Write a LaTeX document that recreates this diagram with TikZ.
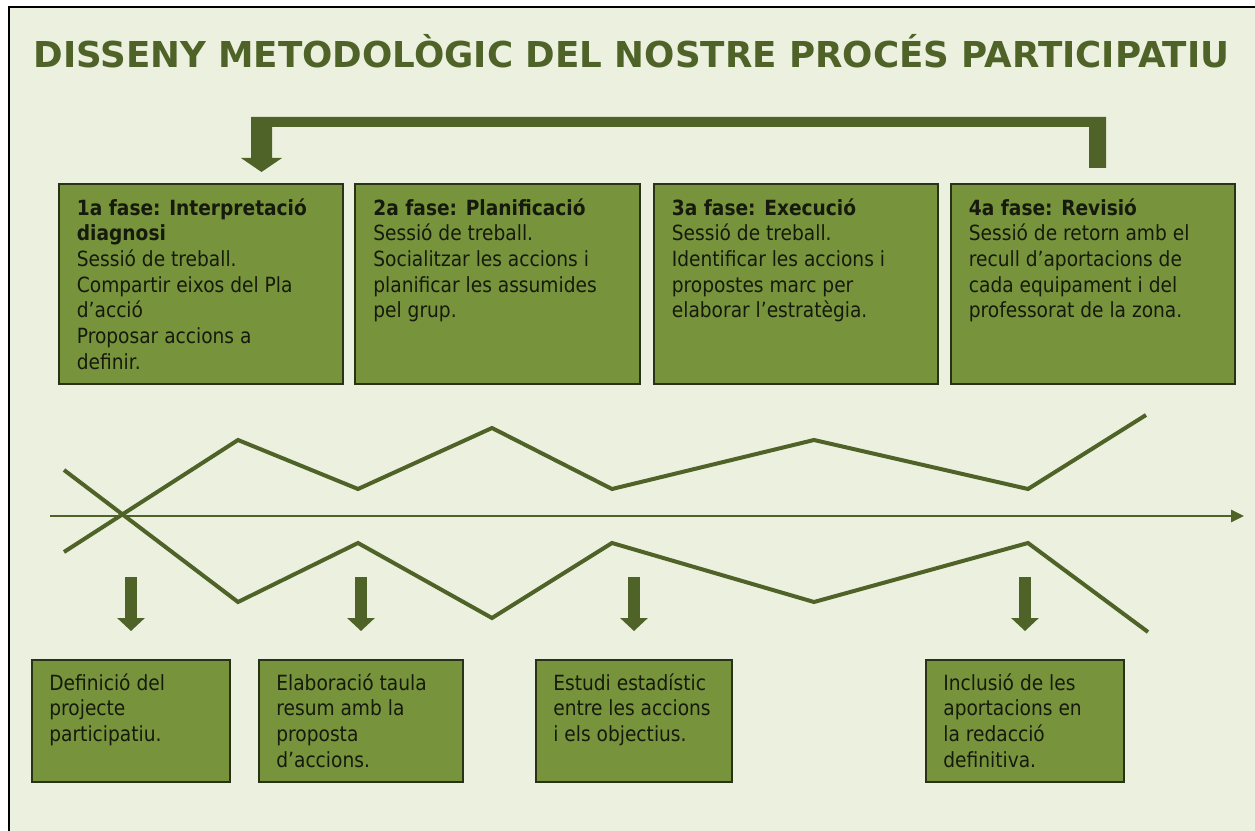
\documentclass[tikz,border=0pt]{standalone}
\usepackage{fontspec}
\setmainfont{DejaVu Sans}[FakeStretch=0.89]
\newfontfamily\titlefont{DejaVu Sans}
\usetikzlibrary{arrows.meta,calc}
\definecolor{bggreen}{RGB}{235,241,222}
\definecolor{boxgreen}{RGB}{119,147,60}
\definecolor{darkolive}{RGB}{79,98,40}
\definecolor{boxline}{RGB}{40,50,22}
\definecolor{inkdark}{RGB}{22,26,12}
\tikzset{
  phasebox/.style={draw=boxline, line width=0.04cm, fill=boxgreen, minimum height=4cm, minimum width=5.7cm, inner sep=0pt},
  resultbox/.style={draw=boxline, line width=0.04cm, fill=boxgreen, minimum height=2.44cm, minimum width=3.96cm, inner sep=0pt},
  boxtext/.style={anchor=north west, inner sep=0pt, align=left, text=inkdark, font=\fontsize{11.9}{14.6}\selectfont},
  downarrow/.style={darkolive, line width=0.24cm, -{Triangle[width=0.54cm,length=0.26cm]}},
  zigzag/.style={darkolive, line width=0.08cm, line join=miter},
}
\begin{document}
\begin{tikzpicture}[x=0.02cm, y=-0.02cm]
\useasboundingbox (0,0) rectangle (1255,831);
\fill[white] (0,0) rectangle (1255,831);
\fill[bggreen] (9,7) rectangle (1255,831);
\draw[black, line width=0.04cm] (9,831) -- (9,7) -- (1255,7);
\node[font=\titlefont\bfseries\fontsize{20.3}{24}\selectfont, text=darkolive, anchor=base, inner sep=0pt] (title) at (631.5,68) {DISSENY METODOLÒGIC DEL NOSTRE PROCÉS PARTICIPATIU};
% fases
\node[phasebox] (p1) at (201,284) {};
\node[phasebox] (p2) at (497.5,284) {};
\node[phasebox] (p3) at (796,284) {};
\node[phasebox] (p4) at (1093,284) {};
\node[boxtext] (t1) at ($(p1.north west)+(19,15)$) {\textbf{1a fase: Interpretació}\\\textbf{diagnosi}\\Sessió de treball.\\Compartir eixos del Pla\\d’acció\\Proposar accions a\\definir.};
\node[boxtext] (t2) at ($(p2.north west)+(19,15)$) {\textbf{2a fase: Planificació}\\Sessió de treball.\\Socialitzar les accions i\\planificar les assumides\\pel grup.};
\node[boxtext] (t3) at ($(p3.north west)+(19,15)$) {\textbf{3a fase: Execució}\\Sessió de treball.\\Identificar les accions i\\propostes marc per\\elaborar l’estratègia.};
\node[boxtext] (t4) at ($(p4.north west)+(19,15)$) {\textbf{4a fase: Revisió}\\Sessió de retorn amb el\\recull d’aportacions de\\cada equipament i del\\professorat de la zona.};
% fletxa de retorn
\fill[darkolive] (1089,168) -- (1089,127) -- (272,127) -- (272,158) -- (282,158) -- (261.5,172)
  -- (241,158) -- (251,158) -- (251,117) -- (1106,117) -- (1106,168) -- cycle;
% eix i linies
\coordinate (axisstart) at (50,516);
\coordinate (axisend) at (1244,516);
\draw[darkolive, line width=0.05cm, -{Triangle[width=0.24cm,length=0.26cm]}] (axisstart) -- (axisend);
\draw[zigzag] (64,552) -- (238,440) -- (358,489) -- (492,428) -- (612,489) -- (814,440) -- (1028,489) -- (1146,415);
\draw[zigzag] (64,470) -- (238,602) -- (358,543) -- (492,618) -- (612,543) -- (814,602) -- (1028,543) -- (1148,632);
% resultats
\node[resultbox] (defin) at (131,721) {};
\node[resultbox, minimum width=4.08cm] (elab) at (361,721) {};
\node[resultbox, minimum width=3.92cm] (estudi) at (634,721) {};
\node[resultbox] (inclus) at (1025,721) {};
\node[boxtext] (ta) at ($(defin.north west)+(18,14)$) {Definició del\\projecte\\participatiu.};
\node[boxtext] (tb) at ($(elab.north west)+(18,14)$) {Elaboració taula\\resum amb la\\proposta\\d’accions.};
\node[boxtext] (tc) at ($(estudi.north west)+(18,14)$) {Estudi estadístic\\entre les accions\\i els objectius.};
\node[boxtext] (td) at ($(inclus.north west)+(18,14)$) {Inclusió de les\\aportacions en\\la redacció\\definitiva.};
\foreach \b in {defin,elab,estudi,inclus}
  \draw[downarrow] ($(\b.north)+(0,-82)$) -- ($(\b.north)+(0,-28)$);
\end{tikzpicture}
\end{document}
